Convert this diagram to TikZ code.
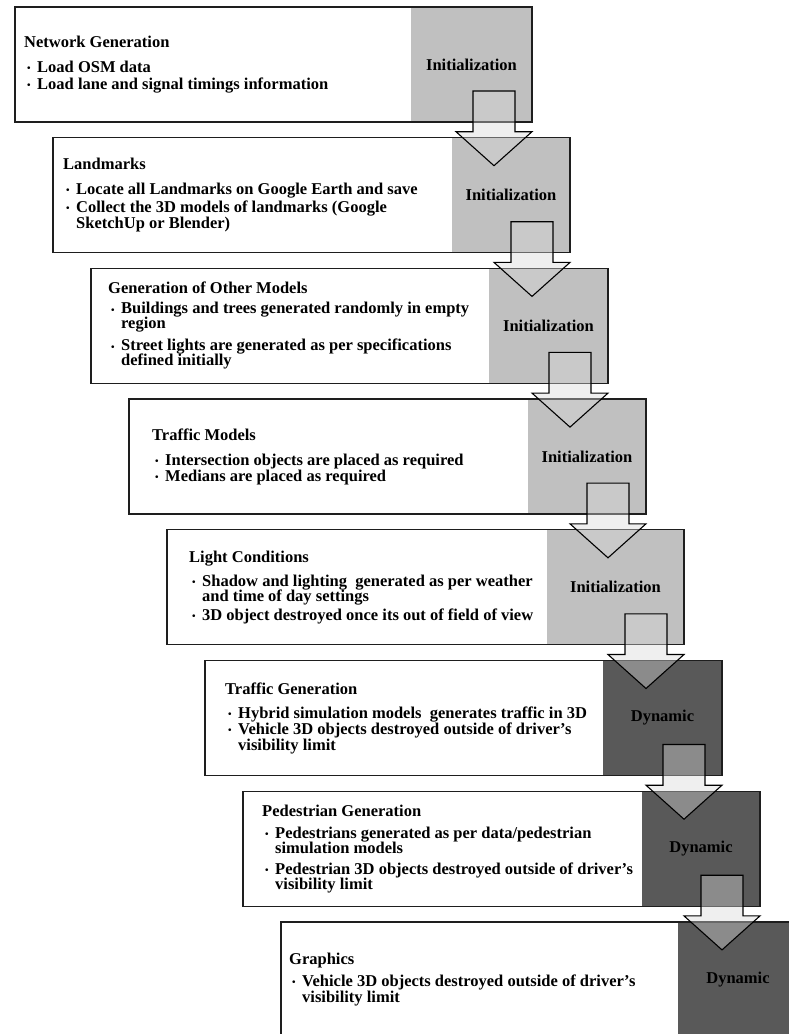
\documentclass[tikz,border=0pt]{standalone}
\usepackage{fontspec}
\setmainfont{Liberation Serif}
\usetikzlibrary{calc}

\definecolor{initgray}{RGB}{192,192,192}
\definecolor{dyngray}{RGB}{89,89,89}
\definecolor{arrowfill}{RGB}{215,215,215}
\definecolor{edgeline}{RGB}{30,30,30}

% bullet and continuation indent for the step lists
\newcommand{\bul}{\makebox[13pt][l]{\hspace{3pt}\raisebox{0.8pt}{\fontsize{10}{10}\selectfont\textbullet}}}
\newcommand{\cont}{\hspace*{13pt}}

\tikzset{
  stepbox/.style={fill=white, minimum width=517pt, minimum height=115pt,
    anchor=north west, inner sep=0pt, outer sep=0pt},
  boxedge/.style={draw=edgeline, line width=1.3pt},
  steptext/.style={anchor=west, align=left, inner sep=0pt,
    font=\bfseries\fontsize{16.5}{16}\selectfont},
  phase/.style={font=\bfseries\fontsize{16.5}{16}\selectfont},
  flowarrow/.style={draw=black, line width=1.1pt, fill=arrowfill,
    fill opacity=0.4, line join=miter},
}

\begin{document}
\begin{tikzpicture}[x=1pt,y=-1pt]
\useasboundingbox (0,0) rectangle (789,1034);
\clip (0,0) rectangle (789,1034);

% the eight steps, each with its phase band on the right
\foreach \i/\gw/\tone/\lab in {
    0/121/initgray/Initialization,
    1/118/initgray/Initialization,
    2/119/initgray/Initialization,
    3/118/initgray/Initialization,
    4/137/initgray/Initialization,
    5/119/dyngray/Dynamic,
    6/118/dyngray/Dynamic,
    7/120/dyngray/Dynamic} {
  \node[stepbox] (b\i) at ({15+38*\i},{7+130.7*\i}) {};
  \fill[fill=\tone] ($(b\i.north east)+(-\gw,0)$) rectangle (b\i.south east);
  \draw[boxedge] (b\i.north west) rectangle (b\i.south east);
  \node[phase] (p\i) at ($(b\i.east)+(-\gw/2,0)$) {\lab};
}

% step descriptions
\node[steptext] (t0) at ($(b0.west)+(9,0)$) {%
  Network Generation\\[9pt]
  \bul Load OSM data\\[1pt]
  \bul Load lane and signal timings information};

\node[steptext] (t1) at ($(b1.west)+(10,0)$) {%
  Landmarks\\[9pt]
  \bul Locate all Landmarks on Google Earth and save\\[2pt]
  \bul Collect the 3D models of landmarks (Google\\
  \cont SketchUp or Blender)};

\node[steptext] (t2) at ($(b2.west)+(17,0)$) {%
  Generation of Other Models\\[4pt]
  \bul Buildings and trees generated randomly in empty\\[-1pt]
  \cont region\\[6pt]
  \bul Street lights are generated as per specifications\\[-1pt]
  \cont defined initially};

\node[steptext] (t3) at ($(b3.west)+(23,0)$) {%
  Traffic Models\\[9pt]
  \bul Intersection objects are placed as required\\
  \bul Medians are placed as required};

\node[steptext] (t4) at ($(b4.west)+(22,0)$) {%
  Light Conditions\\[8pt]
  \bul Shadow and lighting\ \ generated as per weather\\[-1pt]
  \cont and time of day settings\\[3pt]
  \bul 3D object destroyed once its out of field of view};

\node[steptext] (t5) at ($(b5.west)+(20,0)$) {%
  Traffic Generation\\[8pt]
  \bul Hybrid simulation models\ \ generates traffic in 3D\\
  \bul Vehicle 3D objects destroyed outside of driver’s\\
  \cont visibility limit};

\node[steptext] (t6) at ($(b6.west)+(19,0)$) {%
  Pedestrian Generation\\[6pt]
  \bul Pedestrians generated as per data/pedestrian\\[-1pt]
  \cont simulation models\\[5pt]
  \bul Pedestrian 3D objects destroyed outside of driver’s\\[-1pt]
  \cont visibility limit};

\node[steptext] (t7) at ($(b7.west)+(8,0)$) {%
  Graphics\\[6pt]
  \bul Vehicle 3D objects destroyed outside of driver’s\\
  \cont visibility limit};

% block arrows leading from each step to the next
\foreach \i in {0,...,6} {
  \pgfmathtruncatemacro{\j}{\i+1}
  \draw[flowarrow] let \p1=(b\i.south east), \p2=(b\j.north west) in
    (\x1-59pt,\y1+31pt) -- (\x1-17pt,\y1+31pt) -- (\x1-17pt,\y2+6pt)
    -- (\x1,\y2+6pt) -- (\x1-38pt,\y2-28pt) -- (\x1-76pt,\y2+6pt)
    -- (\x1-59pt,\y2+6pt) -- cycle;
}
\end{tikzpicture}
\end{document}
